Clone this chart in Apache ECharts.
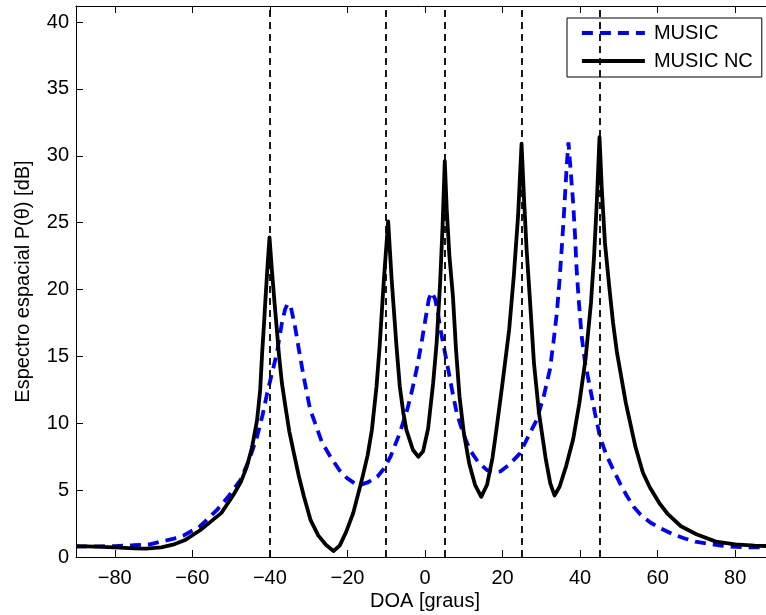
<!DOCTYPE html>
<html>
<head>
<meta charset="utf-8">
<script src="https://cdn.jsdelivr.net/npm/echarts@6/dist/echarts.min.js"></script>
<style>html,body{margin:0;padding:0;background:#fff}#c{width:766px;height:615px}</style>
</head>
<body>
<div id="c"></div>
<script>
// ---- data ----
const xTicks = [-80, -60, -40, -20, 0, 20, 40, 60, 80];
const yTicks = [0, 5, 10, 15, 20, 25, 30, 35, 40];
const trueDoas = [-40, -10, 5, 25, 45];
const seriesNames = ['MUSIC', 'MUSIC NC'];

const musicData = [
  [-90,0.78],[-85,0.8],[-80,0.82],[-75.3,0.88],[-71,0.95],[-68.4,1.13],[-65,1.35],[-62.3,1.6],
  [-58,2.3],[-53.7,3.5],[-50.5,4.6],[-47.6,5.75],[-45.3,7.3],[-43.3,9.0],[-41.9,10.6],[-40.7,12.25],
  [-39.4,13.8],[-38.2,15.25],[-36.9,17.5],[-36.1,18.5],[-35.4,18.95],[-34.6,18.7],[-33.5,17.2],
  [-32.4,15.3],[-31.3,13.5],[-29.6,11],[-28.7,10.3],[-26.6,8.6],[-24.4,7.5],[-22.1,6.5],[-20.1,5.9],
  [-18.1,5.5],[-16.6,5.4],[-14.6,5.6],[-12.3,6.0],[-10.6,6.6],[-8.9,7.5],[-6.6,9.2],[-4.6,11],
  [-3.3,12.5],[-2.0,14.25],[-0.9,16],[0.1,17.75],[1.0,19.3],[1.7,19.8],[2.6,19.3],[3.3,18.3],
  [4.0,17],[5.0,15.5],[6.0,14],[7.1,12.3],[8.2,10.75],[9.9,9.2],[11.6,8.0],[13.7,7.1],[16.0,6.5],
  [17.7,6.35],[19.4,6.4],[21.7,6.9],[24.5,7.75],[26.6,9],[28.8,10.25],[30.6,12],[32.2,14],[33.1,16],
  [34.0,18.25],[34.7,20.7],[35.3,23.25],[35.8,25.5],[36.2,27.5],[36.6,29.5],[37.0,31.0],[37.4,29.5],
  [37.8,28],[38.2,26.5],[38.7,24],[39.1,21.5],[39.7,19],[40.4,16.5],[41.3,14.5],[42.5,12.75],
  [43.8,10.8],[45.1,9.0],[46.8,7.6],[48.6,6.5],[50.3,5.5],[52,4.6],[53.8,3.75],[55.5,3.2],
  [58,2.6],[60.7,2.15],[63.6,1.75],[66.8,1.4],[69.7,1.15],[73,1.0],[76.2,0.85],[80,0.75],
  [85,0.72],[90,0.75]
];

const musicNcData = [
  [-90,0.82],[-85,0.78],[-80,0.72],[-75,0.64],[-72,0.62],[-68,0.72],[-65,0.92],[-62,1.25],
  [-58,2.0],[-55,2.7],[-52.5,3.3],[-49.5,4.6],[-47.5,5.6],[-46,6.7],[-44.6,8.2],[-43.3,10.25],
  [-42.5,12.5],[-42,15.25],[-41.5,17.5],[-41.2,19],[-40.6,21.8],[-40.1,23.9],[-39.5,21.5],
  [-38.8,19],[-38.2,17],[-37.7,15.25],[-36.9,13],[-36,11.25],[-35,9.4],[-33.8,7.75],[-32.5,6.0],
  [-31.2,4.5],[-29.5,2.75],[-27.5,1.6],[-25.5,0.9],[-23.6,0.45],[-22,0.85],[-20.3,1.9],[-18.5,3.3],
  [-16.3,5.75],[-14.8,7.6],[-13.7,9.5],[-12.5,12.75],[-11.7,15.75],[-10.6,20.75],[-9.5,25.1],
  [-8.6,20.75],[-7.35,15.75],[-6.5,12.75],[-5.6,10.8],[-4.8,9.5],[-3.1,8.0],[-1.7,7.5],[-0.5,7.9],
  [0.8,9.6],[2.1,13.0],[3.0,16],[3.9,20.5],[4.5,24.5],[5.1,29.6],[5.6,26],[6.3,22.5],[7.2,19.5],
  [8.0,15.5],[8.9,12],[10.0,9.3],[11.4,7],[12.9,5.4],[14.5,4.5],[16,5.4],[17.4,7.4],[18.4,9.5],
  [19.9,12.8],[21.7,17],[22.9,21],[24.0,25.5],[24.9,30.9],[25.5,27],[26.2,23],[27.0,19.5],
  [28.1,14.5],[29.4,10.75],[31.1,7.4],[32.3,5.5],[33.4,4.6],[34.7,5.25],[36.4,6.8],[38.2,8.8],
  [39.8,11.5],[41.4,14.8],[42.8,19],[43.6,22.5],[44.3,26.5],[45.0,31.4],[45.6,27.5],[46.4,23.5],
  [47.5,20.25],[48.5,17.5],[49.5,15.3],[51.8,11.5],[54.3,8.2],[56.2,6.3],[58,5.2],[60.5,4.0],
  [62.5,3.25],[66,2.3],[70,1.7],[75,1.15],[80,0.95],[85,0.85],[90,0.8]
];

// ---- chart ----
const FONT = 'Liberation Sans';
const minus = v => String(v).replace('-', '\u2212');
const chart = echarts.init(document.getElementById('c'), null, {renderer: 'canvas'});
const axisLineStyle = {color: '#000', width: 1};
const tickStyle = {color: '#000', width: 1};
const LW = 3.8;

chart.setOption({
  animation: false,
  backgroundColor: '#fff',
  grid: {left: 76, right: -8, top: 6, bottom: 58, containLabel: false, outerBoundsMode: 'none'},
  legend: {
    data: [
      {name: seriesNames[0], itemStyle: {opacity: 0}, lineStyle: {color: '#0000ff', width: LW, type: [11, 7]}},
      {name: seriesNames[1], itemStyle: {opacity: 0}, lineStyle: {color: '#000', width: LW, type: 'solid'}}
    ],
    orient: 'vertical',
    left: 567, top: 18,
    padding: [5, 9, 6, 13],
    itemWidth: 63, itemHeight: 14, itemGap: 8,
    backgroundColor: '#fff',
    borderColor: '#000', borderWidth: 1, borderRadius: 0,
    itemStyle: {opacity: 0},
    textStyle: {fontFamily: FONT, fontSize: 20, color: '#000', padding: [0, 0, 0, 4]}
  },
  xAxis: [{
    type: 'value', min: -90, max: 90, position: 'bottom',
    name: 'DOA [graus]', nameLocation: 'middle', nameGap: 34, nameMoveOverlap: false,
    nameTextStyle: {fontFamily: FONT, fontSize: 20, color: '#000'},
    axisLine: {show: true, onZero: false, lineStyle: axisLineStyle},
    axisTick: {show: true, inside: true, length: 7, lineStyle: tickStyle, customValues: xTicks},
    axisLabel: {show: true, fontFamily: FONT, fontSize: 20, color: '#000', margin: 11,
      customValues: xTicks, formatter: minus},
    splitLine: {show: false}
  }, {
    type: 'value', min: -90, max: 90, position: 'top',
    axisLine: {show: true, onZero: false, lineStyle: axisLineStyle},
    axisTick: {show: true, inside: true, length: 7, lineStyle: tickStyle, customValues: xTicks},
    axisLabel: {show: false},
    splitLine: {show: false}
  }],
  yAxis: [{
    type: 'value', min: 0, max: 41.2, position: 'left',
    name: 'Espectro espacial P(\u03b8) [dB]', nameLocation: 'middle', nameGap: 43, nameMoveOverlap: false,
    nameTextStyle: {fontFamily: FONT, fontSize: 20, color: '#000'},
    axisLine: {show: true, onZero: false, lineStyle: axisLineStyle},
    axisTick: {show: true, inside: true, length: 7, lineStyle: tickStyle, customValues: yTicks},
    axisLabel: {show: true, fontFamily: FONT, fontSize: 20, color: '#000', margin: 7,
      customValues: yTicks},
    splitLine: {show: false}
  }, {
    type: 'value', min: 0, max: 41.2, position: 'right',
    axisLine: {show: true, onZero: false, lineStyle: axisLineStyle},
    axisTick: {show: true, inside: true, length: 7, lineStyle: tickStyle, customValues: yTicks},
    axisLabel: {show: false},
    splitLine: {show: false}
  }],
  series: [{
    name: seriesNames[0], type: 'line', data: musicData,
    xAxisIndex: 0, yAxisIndex: 0,
    symbol: 'none', showSymbol: false, smooth: false, z: 3,
    lineStyle: {color: '#0000ff', width: LW, type: [11, 7]},
    itemStyle: {color: '#0000ff'}
  }, {
    name: seriesNames[1], type: 'line', data: musicNcData,
    xAxisIndex: 0, yAxisIndex: 0,
    symbol: 'none', showSymbol: false, smooth: false, z: 4,
    lineStyle: {color: '#000', width: LW, type: 'solid', join: 'round'},
    itemStyle: {color: '#000'},
    markLine: {
      silent: true, symbol: ['none', 'none'], animation: false,
      label: {show: false},
      lineStyle: {color: '#000', width: 1.8, type: [7, 5]},
      emphasis: {disabled: true},
      data: trueDoas.map(v => ({xAxis: v}))
    }
  }]
});
</script>
</body>
</html>
